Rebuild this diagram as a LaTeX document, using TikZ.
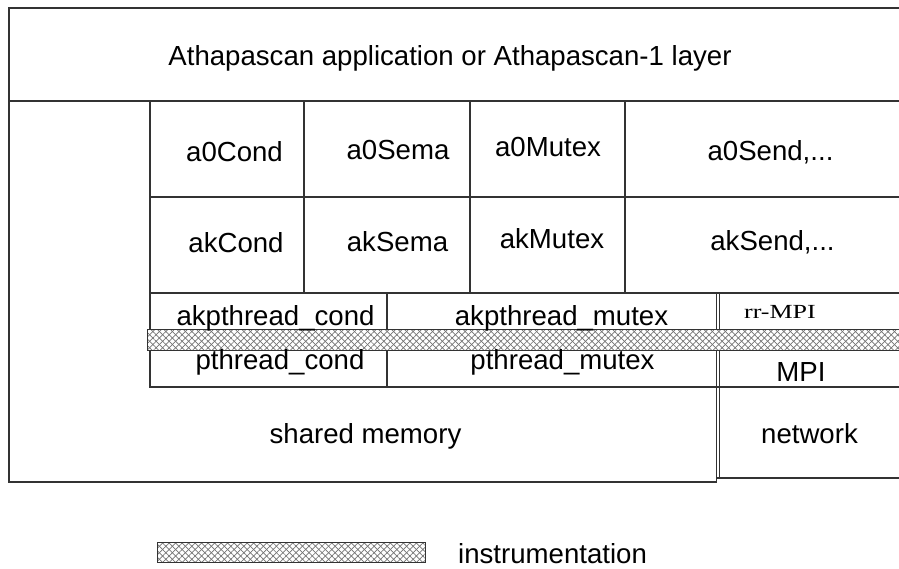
\documentclass[tikz,border=0pt]{standalone}
\usepackage{fontspec}
\setmainfont{Liberation Sans}
\newfontfamily\serifrm{Liberation Serif}
\usetikzlibrary{patterns.meta}
\begin{document}
\begin{tikzpicture}[x=1pt,y=-1pt,
  frame/.style={line width=1.3pt,draw=black!80},
  thin frame/.style={line width=0.9pt,draw=black!80},
  lbl/.style={anchor=base,inner sep=0pt,font=\fontsize{27.6}{30}\selectfont},
  hatchA/.style={pattern={Lines[angle=45,distance=4.6pt,line width=0.7pt]},pattern color=black!55},
  hatchB/.style={pattern={Lines[angle=-45,distance=4.6pt,line width=0.7pt]},pattern color=black!55}]
\useasboundingbox (0,0) rectangle (899,569);
% outer frame
\draw[frame] (899,8) -- (9,8) -- (9,482) -- (717,482);
\draw[frame] (9,101) -- (899,101);
% cell grid
\draw[frame] (150,101) -- (150,387) -- (899,387);
\draw[frame] (150,197) -- (899,197);
\draw[frame] (150,293) -- (899,293);
\foreach \xx in {304,470,625} \draw[frame] (\xx,101) -- (\xx,293);
\draw[frame] (387,293) -- (387,387);
% double line MPI / network
\draw[thin frame] (716,293) -- (716,482);
\draw[thin frame] (719.5,293) -- (719.5,478);
\draw[frame] (716,478) -- (899,478);
% instrumentation band
\fill[white] (147,329) rectangle (905,350);
\fill[hatchA] (147,329) rectangle (905,350);
\fill[hatchB] (147,329) rectangle (905,350);
\draw[thin frame] (147,329) rectangle (905,350);
% legend
\fill[white] (157,542) rectangle (425,562);
\fill[hatchA] (157,542) rectangle (425,562);
\fill[hatchB] (157,542) rectangle (425,562);
\draw[thin frame] (157,542) rectangle (425,562);
% labels
\node[lbl] (title) at (450,66) {Athapascan application or Athapascan-1 layer};
\node[lbl] (a0cond) at (234.5,162) {a0Cond};
\node[lbl] (a0sema) at (398,160) {a0Sema};
\node[lbl] (a0mutex) at (548,157) {a0Mutex};
\node[lbl] (a0send) at (770.5,161) {a0Send,...};
\node[lbl] (akcond) at (236,253) {akCond};
\node[lbl] (aksema) at (397.5,252) {akSema};
\node[lbl] (akmutex) at (552,249) {akMutex};
\node[lbl] (aksend) at (772.5,251) {akSend,...};
\node[lbl] (akpcond) at (275.5,325) {akpthread\_cond};
\node[lbl] (akpmutex) at (561.5,325) {akpthread\_mutex};
\node[lbl] (pcond) at (280,369) {pthread\_cond};
\node[lbl] (pmutex) at (562.5,369) {pthread\_mutex};
\node[anchor=base,inner sep=0pt,font=\serifrm\fontsize{20}{22}\selectfont] (rrmpi) at (780,318) {\scalebox{1.3}[1]{rr-MPI}};
\node[lbl] (mpi) at (801,381) {MPI};
\node[lbl] (shm) at (365.5,443) {shared memory};
\node[lbl] (net) at (809.5,443) {network};
\node[lbl,anchor=base west] (instr) at (458,563) {instrumentation};
\end{tikzpicture}
\end{document}
